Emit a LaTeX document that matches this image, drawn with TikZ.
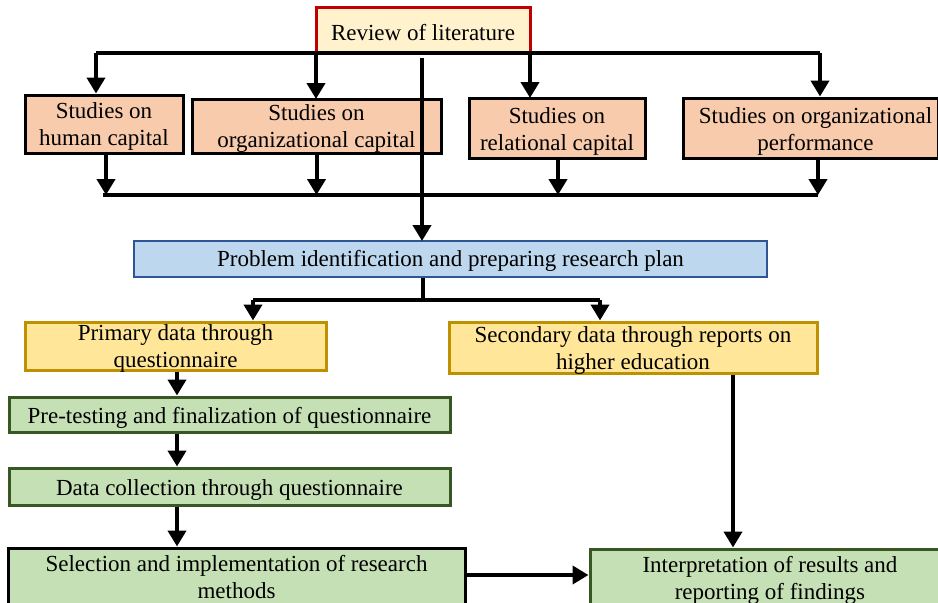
\documentclass[tikz,border=0pt]{standalone}
\usepackage{fontspec}
\setmainfont{Liberation Serif}
\usetikzlibrary{arrows.meta}
\definecolor{revfill}{HTML}{FFF2CC}
\definecolor{revline}{HTML}{C00000}
\definecolor{studyfill}{HTML}{F8CBAD}
\definecolor{planfill}{HTML}{BDD7EE}
\definecolor{planline}{HTML}{2F5597}
\definecolor{datafill}{HTML}{FFE699}
\definecolor{dataline}{HTML}{BF9000}
\definecolor{stepfill}{HTML}{C5E0B4}
\definecolor{stepline}{HTML}{385723}
\tikzset{
  box/.style={draw, line width=3pt, inner sep=0pt},
  txt/.style={inner sep=0pt, align=center, font=\fontsize{23}{27}\selectfont},
  review/.style={box, draw=revline, fill=revfill},
  study/.style={box, draw=black, fill=studyfill},
  plan/.style={box, draw=planline, fill=planfill, line width=2.5pt},
  source/.style={box, draw=dataline, fill=datafill},
  stepbox/.style={box, draw=stepline, fill=stepfill},
  flow/.style={line width=4pt, -{Triangle[width=18pt,length=16pt]}},
  bus/.style={line width=4pt}
}
\begin{document}
\begin{tikzpicture}[x=1pt,y=-1pt]
\useasboundingbox (0,0) rectangle (938,603);
\fill[white] (0,0) rectangle (938,603);
\clip (0,0) rectangle (938,603);

% boxes
\node[review, minimum width=214pt, minimum height=45pt] (rev) at (423,29.5) {};
\node[study, minimum width=158pt, minimum height=58pt] (hum) at (104,124) {};
\node[study, minimum width=249pt, minimum height=54pt] (org) at (316.5,126) {};
\node[study, minimum width=176pt, minimum height=60pt] (rel) at (557,128) {};
\node[study, minimum width=255pt, minimum height=60pt] (perf) at (810.5,128) {};
\node[plan, minimum width=633pt, minimum height=36pt] (plan) at (450.5,259) {};
\node[source, minimum width=301pt, minimum height=48pt] (prim) at (175.5,346) {};
\node[source, minimum width=368pt, minimum height=51pt] (sec) at (633,347.5) {};
\node[stepbox, minimum width=441pt, minimum height=35pt] (pre) at (229.5,414.5) {};
\node[stepbox, minimum width=441pt, minimum height=37pt] (coll) at (229.5,486.5) {};
\node[stepbox, draw=black, minimum width=457pt, minimum height=58pt] (sel) at (236.5,577) {};
\node[stepbox, minimum width=350pt, minimum height=58pt] (interp) at (765,578) {};

% box texts
\node[txt] (revT) at ([yshift=-3pt]rev.center) {Review of literature};
\node[txt] (humT) at ([yshift=-2pt]hum.center) {Studies on\\human capital};
\node[txt] (orgT) at ([yshift=-2pt]org.center) {Studies on\\organizational capital};
\node[txt] (relT) at ([yshift=-3pt]rel.center) {Studies on\\relational capital};
\node[txt] (perfT) at ([xshift=5pt,yshift=-3pt]perf.center) {Studies on organizational\\performance};
\node[txt] (planT) at ([yshift=-2pt]plan.center) {Problem identification and preparing research plan};
\node[txt] (primT) at ([yshift=-2pt]prim.center) {Primary data through\\questionnaire};
\node[txt] (secT) at ([yshift=-3pt]sec.center) {Secondary data through reports on\\higher education};
\node[txt] (preT) at ([yshift=-3pt]pre.center) {Pre-testing and finalization of questionnaire};
\node[txt] (collT) at ([yshift=-3pt]coll.center) {Data collection through questionnaire};
\node[txt] (selT) at (sel.center) {Selection and implementation of research\\methods};
\node[txt] (interpT) at ([xshift=5pt,yshift=-2pt]interp.center) {Interpretation of results and\\reporting of findings};

% distribution line under the literature review
\coordinate (tl) at (96,53);
\coordinate (tr) at (820,53);
\draw[bus] (tl) -- (tr);
\draw[flow] (tl) -- (tl |- hum.north);
\draw[flow] (316,53) -- (316,99) coordinate (orgtop);
\draw[flow] (530,53) -- (530,98) coordinate (reltop);
\draw[flow] (tr) -- (tr |- perf.north);

% collecting line under the studies
\coordinate (bl) at (103,195);
\coordinate (br) at (818,195);
\draw[bus] (bl) -- (br);
\draw[flow] (hum.south -| 106,0) -- (106,195);
\draw[flow] (org.south) -- (org.south |- bl);
\draw[flow] (rel.south -| 558,0) -- (558,195);
\draw[flow] (perf.south -| 818,0) -- (br);

% review to problem identification
\draw[flow] (422,58) -- (422,241) coordinate (plantop);

% problem identification to data sources
\coordinate (ml) at (253,300);
\coordinate (mr) at (600,300);
\draw[bus] (plan.south -| 423,0) -- (423,300);
\draw[bus] (ml) -- (mr);
\draw[flow] (ml) -- (ml |- prim.north);
\draw[flow] (mr) -- (mr |- sec.north);

% primary data chain
\draw[flow] (prim.south -| 177,0) -- (pre.north -| 177,0);
\draw[flow] (pre.south -| 177,0) -- (coll.north -| 177,0);
\draw[flow] (coll.south -| 177,0) -- (sel.north -| 177,0);
\draw[flow] (sel.east |- 0,575) -- (interp.west |- 0,575);

% secondary data to interpretation
\draw[flow] (sec.south -| 733,0) -- (interp.north -| 733,0);
\end{tikzpicture}
\end{document}
